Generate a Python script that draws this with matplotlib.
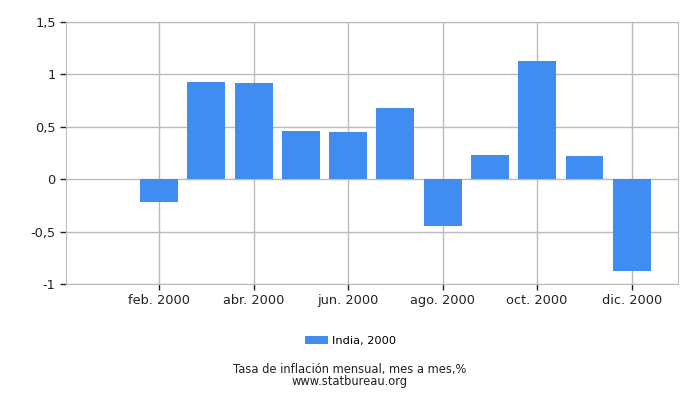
import matplotlib.pyplot as plt

months = ["ene.", "feb.", "mar.", "abr.", "may.", "jun.",
          "jul.", "ago.", "sep.", "oct.", "nov.", "dic."]
inflation = [0.0, -0.22, 0.93, 0.92, 0.46, 0.45,
             0.68, -0.45, 0.23, 1.13, 0.22, -0.88]
y_ticks = [-1, -0.5, 0, 0.5, 1, 1.5]
y_labels = ["-1", "-0,5", "0", "0,5", "1", "1,5"]
year = 2000

fig = plt.figure(figsize=(7, 4), dpi=100)
ax = fig.add_axes([66 / 700, 1 - 284 / 400, 612 / 700, 262 / 400])

x = list(range(1, len(months) + 1))
ax.bar(x, inflation, width=0.8, color="#418cf0", zorder=3,
       label=f"India, {year}")

ax.set_xlim(0.03, 12.98)
ax.set_ylim(-1, 1.5)
ax.set_yticks(y_ticks)
ax.set_yticklabels(y_labels)
ax.set_xticks(x[1::2])
ax.set_xticklabels([f"{m} {year}" for m in months[1::2]])

ax.grid(True, color="#bbbbbb", linewidth=1, zorder=0)
for s in ax.spines.values():
    s.set_color("#bbbbbb")
ax.tick_params(axis="both", labelsize=9.3, color="#222222", length=4,
               width=1, labelcolor="#222222")

ax.legend(loc="upper center", bbox_to_anchor=(0.465, -0.158), frameon=False,
          fontsize=8.2, handlelength=2.0, handleheight=0.8, handletextpad=0.4)

fig.text(0.5, 1 - 370 / 400, "Tasa de inflación mensual, mes a mes,%",
         ha="center", va="center", fontsize=8.3, color="#222222")
fig.text(0.5, 1 - 382 / 400, "www.statbureau.org",
         ha="center", va="center", fontsize=8.3, color="#222222")

fig.savefig("out.png")
